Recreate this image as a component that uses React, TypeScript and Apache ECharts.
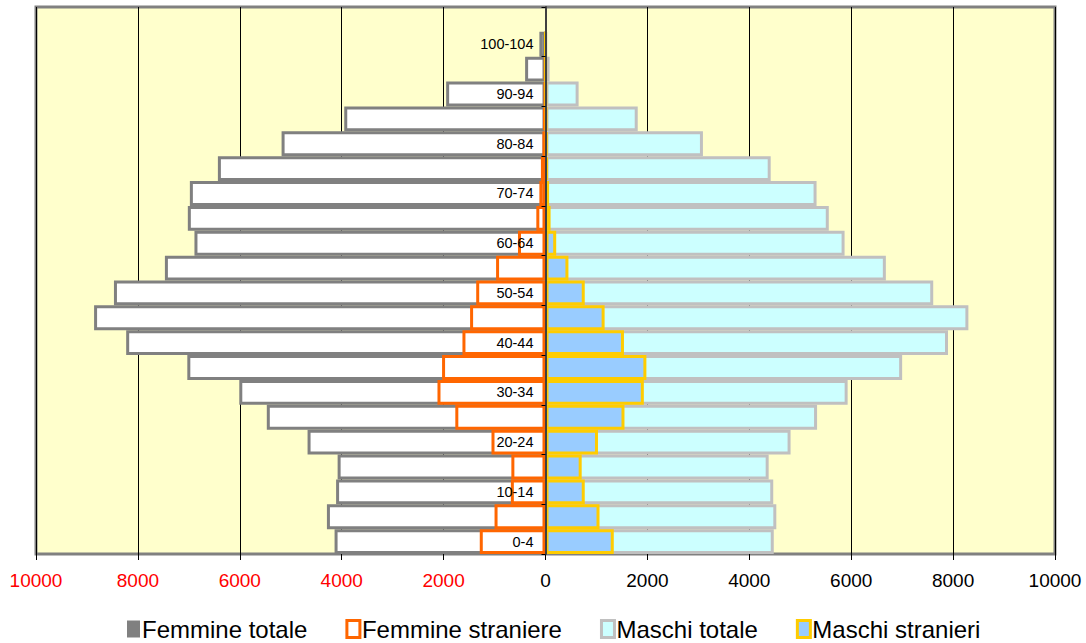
import React, { useEffect, useRef } from "react";
import * as echarts from "echarts";

const categories = [
  "0-4", "5-9", "10-14", "15-19", "20-24", "25-29", "30-34", "35-39", "40-44", "45-49",
  "50-54", "55-59", "60-64", "65-69", "70-74", "75-79", "80-84", "85-89", "90-94", "95-99",
  "100-104", "105+",
];

const femmineTotale = [4140, 4290, 4110, 4080, 4670, 5470, 6010, 7030, 8230, 8860, 8470, 7470, 6890, 7020, 6980, 6430, 5180, 3950, 1950, 400, 120, null];
const femmineStraniere = [1290, 1000, 680, 670, 1060, 1770, 2120, 2030, 1630, 1480, 1360, 970, 540, 180, 120, 90, 60, 40, 20, 10, 0, null];
const maschiTotale = [4480, 4530, 4470, 4380, 4810, 5330, 5930, 7000, 7900, 8300, 7610, 6680, 5870, 5560, 5320, 4420, 3090, 1810, 650, 80, 10, null];
const maschiStranieri = [1340, 1060, 770, 710, 1030, 1550, 1930, 1980, 1540, 1160, 770, 450, 210, 100, 70, 40, 30, 20, 10, 5, 0, null];

const xTicks = { min: -10000, max: 10000, interval: 2000 };

const FONT = "'Liberation Sans', Arial, sans-serif";

const GRID_LEFT = 36;
const GRID_RIGHT = 31;
const WIDTH = 1086;

export default function App() {
  const ref = useRef<HTMLDivElement>(null);

  useEffect(() => {
    if (!ref.current) return;
    const chart = echarts.init(ref.current, null, { renderer: "svg" });
    const neg = (arr: (number | null)[]) => arr.map((v) => (v == null ? null : -v));
    const gridW = WIDTH - GRID_LEFT - GRID_RIGHT;
    const zeroOffset = -(gridW * (0 - xTicks.min)) / (xTicks.max - xTicks.min);

    chart.setOption({
      animation: false,
      backgroundColor: "#ffffff",
      textStyle: { fontFamily: FONT },
      grid: {
        left: GRID_LEFT,
        right: GRID_RIGHT,
        top: 7,
        bottom: 89,
        containLabel: false,
        outerBoundsMode: "none",
        show: true,
        backgroundColor: "#FFFFCC",
        borderColor: "#808080",
        borderWidth: 3,
      },
      legend: {
        left: 122,
        top: 612,
        icon: "rect",
        itemWidth: 13,
        itemHeight: 17,
        itemGap: 38,
        textStyle: { fontSize: 24, color: "#000", fontFamily: FONT, padding: [0, 0, 0, -3] },
        data: [
          { name: "Femmine totale", itemStyle: { color: "#808080", borderColor: "#808080", borderWidth: 0 } },
          { name: "Femmine straniere", itemStyle: { color: "#ffffff", borderColor: "#FF6600", borderWidth: 3 } },
          { name: "Maschi totale", itemStyle: { color: "#CCFFFF", borderColor: "#C0C0C0", borderWidth: 3 } },
          { name: "Maschi stranieri", itemStyle: { color: "#99CCFF", borderColor: "#FFCC00", borderWidth: 3 } },
        ],
      },
      xAxis: {
        type: "value",
        min: xTicks.min,
        max: xTicks.max,
        interval: xTicks.interval,
        axisLine: { show: false, onZero: false },
        axisTick: { show: true, length: 6, lineStyle: { color: "#000", width: 1 } },
        splitLine: { show: true, lineStyle: { color: "#000", width: 1 } },
        axisLabel: {
          fontSize: 19,
          fontFamily: FONT,
          margin: 17,
          formatter: (v: number) => String(Math.abs(v)),
          color: (v: any) => (Number(v) < 0 ? "#FF0000" : "#000000"),
        },
      },
      yAxis: {
        type: "category",
        data: categories,
        position: "left",
        offset: zeroOffset,
        z: 5,
        axisLine: { show: true, onZero: false, lineStyle: { color: "#404040", width: 2 } },
        axisTick: { show: true, length: 4, lineStyle: { color: "#000", width: 1 } },
        axisLabel: { show: true, interval: 1, fontSize: 14.5, color: "#000", fontFamily: FONT, margin: 12 },
        splitLine: { show: false },
      },
      series: [
        {
          name: "Femmine totale",
          type: "bar",
          data: neg(femmineTotale),
          barGap: "-100%",
          barCategoryGap: 0,
          itemStyle: { color: "#ffffff", borderColor: "#808080", borderWidth: 3 },
        },
        {
          name: "Femmine straniere",
          type: "bar",
          data: neg(femmineStraniere),
          barGap: "-100%",
          barCategoryGap: 0,
          itemStyle: { color: "#ffffff", borderColor: "#FF6600", borderWidth: 3 },
        },
        {
          name: "Maschi totale",
          type: "bar",
          data: maschiTotale,
          barGap: "-100%",
          barCategoryGap: 0,
          itemStyle: { color: "#CCFFFF", borderColor: "#C0C0C0", borderWidth: 3 },
        },
        {
          name: "Maschi stranieri",
          type: "bar",
          data: maschiStranieri,
          barGap: "-100%",
          barCategoryGap: 0,
          itemStyle: { color: "#99CCFF", borderColor: "#FFCC00", borderWidth: 3 },
        },
      ],
    });

    return () => chart.dispose();
  }, []);

  return (
    <div
      ref={ref}
      style={{ position: "fixed", left: 0, top: 0, width: WIDTH, height: 643 }}
    />
  );
}
